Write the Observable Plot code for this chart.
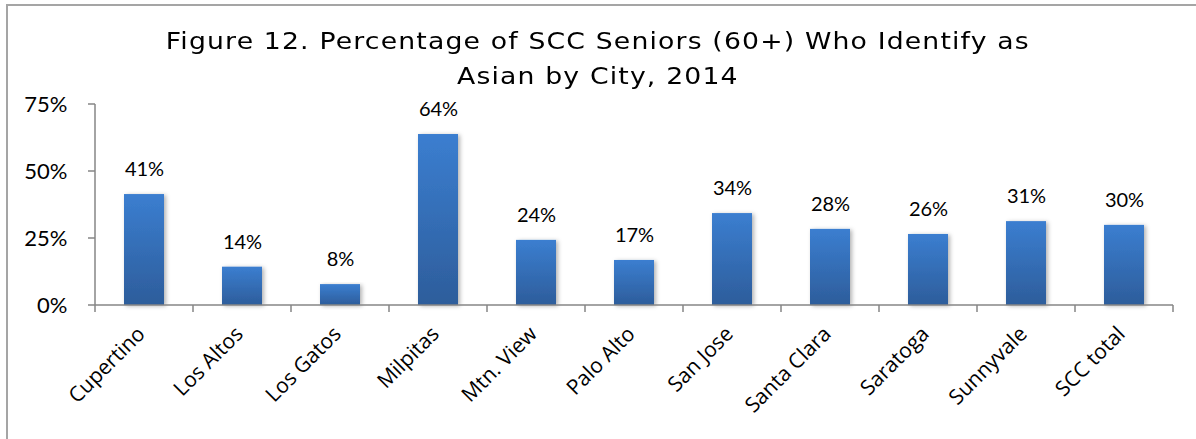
<!DOCTYPE html>
<html>
<head>
<meta charset="utf-8">
<script src="https://cdn.jsdelivr.net/npm/d3@7"></script>
<script src="https://cdn.jsdelivr.net/npm/@observablehq/plot@0.6"></script>
<style>
  html, body { margin: 0; padding: 0; background: #fff; overflow: hidden; width: 1196px; height: 439px; }
  #frame { position: absolute; left: 6px; top: 4px; width: 1300px; height: 600px; border: 2px solid #a5a5a5; box-sizing: border-box; }
  #title { position: relative; height: 95px; box-sizing: border-box; padding-top: 24px; text-align: center; font-family: "DejaVu Sans", sans-serif; font-size: 23px; letter-spacing: 1px; line-height: 35px; color: #000; transform: scaleX(1.16); transform-origin: 599px 0; }
  #chart { position: relative; }
</style>
</head>
<body>
<div id="frame"></div>
<div id="title">Figure 12. Percentage of SCC Seniors (60+) Who Identify as<br>Asian by City, 2014</div>
<div id="chart"></div>
<script>
const cities = ["Cupertino","Los Altos","Los Gatos","Milpitas","Mtn. View","Palo Alto","San Jose","Santa Clara","Saratoga","Sunnyvale","SCC total"];
const values = [41.4, 14.3, 7.8, 63.8, 24.3, 16.8, 34.3, 28.4, 26.5, 31.3, 29.9];
const valueLabels = ["41%","14%","8%","64%","24%","17%","34%","28%","26%","31%","30%"];
const yTicks = [0, 25, 50, 75];
const yTickLabels = ["0%","25%","50%","75%"];

const data = cities.map((c, i) => ({city: c, value: values[i], label: valueLabels[i]}));

const NS = "http://www.w3.org/2000/svg";
function defsMark() {
  const g = document.createElementNS(NS, "g");
  g.innerHTML = `<defs>
    <linearGradient id="barGrad" x1="0" y1="0" x2="0" y2="1">
      <stop offset="0" stop-color="#3b7ed0"/>
      <stop offset="1" stop-color="#2d5d9b"/>
    </linearGradient>
    <filter id="shadow" x="-20%" y="-10%" width="150%" height="130%">
      <feDropShadow dx="2" dy="1" stdDeviation="2" flood-color="#000" flood-opacity="0.3"/>
    </filter>
  </defs>`;
  return g;
}

function axesMark(index, scales) {
  const {x, y} = scales;
  const g = document.createElementNS(NS, "g");
  const step = x(cities[1]) - x(cities[0]);
  const x0 = x(cities[0]);
  const x1 = x(cities[cities.length - 1]) + step;
  const y0 = y(0);
  const yTop = y(yTicks[yTicks.length - 1]);
  const stroke = "#868686";
  let s = `<line x1="${x0}" x2="${x0}" y1="${yTop}" y2="${y0}" stroke="${stroke}" stroke-width="1.5"/>`;
  s += `<line x1="${x0}" x2="${x1}" y1="${y0}" y2="${y0}" stroke="${stroke}" stroke-width="1.5"/>`;
  cities.forEach(c => { s += `<line x1="${x(c)}" x2="${x(c)}" y1="${y0}" y2="${y0 + 7}" stroke="${stroke}" stroke-width="1.5"/>`; });
  s += `<line x1="${x1}" x2="${x1}" y1="${y0}" y2="${y0 + 7}" stroke="${stroke}" stroke-width="1.5"/>`;
  yTicks.forEach(t => { s += `<line x1="${x0 - 7}" x2="${x0}" y1="${y(t)}" y2="${y(t)}" stroke="${stroke}" stroke-width="1.5"/>`; });
  g.innerHTML = s;
  return g;
}

const chart = Plot.plot({
  width: 1196,
  height: 344,
  marginLeft: 91,
  marginRight: 20,
  marginTop: 9,
  marginBottom: 134,
  style: {fontFamily: "Lato, sans-serif", color: "#000", background: "transparent", overflow: "visible"},
  x: {domain: cities, padding: 0, label: null},
  y: {domain: [0, 75], label: null},
  marks: [
    defsMark,
    Plot.barY(data, {x: "city", y: "value", fill: "url(#barGrad)", insetLeft: 29, insetRight: 29}),
    axesMark,
    Plot.axisY({ticks: yTicks, tickFormat: (d) => yTickLabels[yTicks.indexOf(d)], tickSize: 0, tickPadding: 24, fontSize: 22, label: null}),
    Plot.axisX({tickSize: 0, tickPadding: 25, tickRotate: -45, fontSize: 21, dx: -3, fontFamily: "Open Sans, sans-serif", label: null}),
    Plot.text(data, {x: "city", y: "value", text: "label", dy: -25, fontSize: 20, fill: "#000"})
  ]
});
chart.querySelectorAll("rect").forEach(r => r.setAttribute("filter", "url(#shadow)"));
document.getElementById("chart").appendChild(chart);
</script>
</body>
</html>
